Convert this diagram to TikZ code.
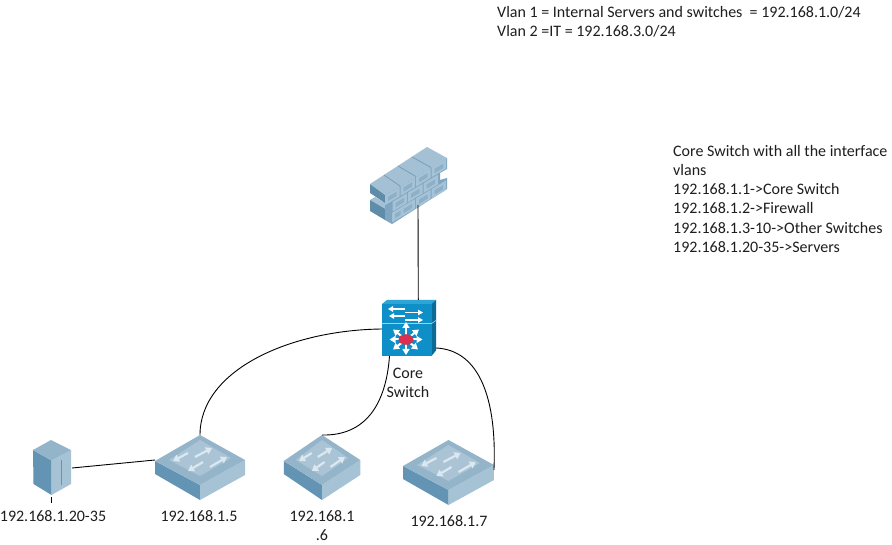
\documentclass[tikz,border=0pt]{standalone}
\usepackage{fontspec}
\setmainfont{Carlito}
\usetikzlibrary{arrows.meta}
\definecolor{swleft}{HTML}{6394B3}
\definecolor{swright}{HTML}{A6C2D5}
\definecolor{swtop}{HTML}{94B4CA}
\definecolor{swpanel}{HTML}{AAC4D6}
\definecolor{swarrow}{HTML}{DCE8F0}
\definecolor{brtop}{HTML}{A3C0D4}
\definecolor{brfront}{HTML}{7FA6C0}
\definecolor{brbrick}{HTML}{A5C2D6}
\definecolor{brwin}{HTML}{8DB0C8}
\definecolor{brdark}{HTML}{5F8DA9}
\definecolor{corefront}{HTML}{0F8FC8}
\definecolor{coretop}{HTML}{2FA5D6}
\definecolor{coreside}{HTML}{0C6A96}
\definecolor{corered}{HTML}{D9304F}
\definecolor{txt}{HTML}{1E1E1E}
\newcommand\fwbrick[2]{%
  \pgfmathsetmacro\fwby{195-0.6*(#1-385)+#2}%
  \fill[brbrick] (#1,\fwby) -- ++(14.6,-8.76) -- ++(0,9.6) -- ++(-14.6,8.76) -- cycle;
  \fill[brwin] ({#1+3},{\fwby+1.2}) -- ++(8.6,-5.16) -- ++(0,4.2) -- ++(-8.6,5.16) -- cycle;
}
\tikzset{
  lbl/.style={font=\fontsize{16}{18}\selectfont,text=txt,inner sep=0pt,anchor=base},
  lblleft/.style={lbl,anchor=base west},
  link/.style={draw=black,line width=0.9pt},
  swar/.style={draw=swarrow,line width=2.2pt,-{Triangle[width=7.5pt,length=6pt]}},
  corear/.style={draw=white,line width=2pt,-{Triangle[width=7pt,length=6pt]}},
  corebar/.style={draw=white,line width=1.3pt,-{Triangle[width=5.5pt,length=5pt]}},
  lanswitch/.pic={
    \fill[swleft] (-45,1) -- (0,25) -- (0,40) -- (-45,14) -- cycle;
    \fill[swright] (45,0) -- (0,25) -- (0,40) -- (45,15) -- cycle;
    \fill[swtop] (0,-25) -- (45,0) -- (0,25) -- (-45,1) -- cycle;
    \fill[swpanel] (0,-20) -- (31,-2) -- (0,16) -- (-31,0) -- cycle;
    \draw[swar] (-12,-7) -- (-27,1);
    \draw[swar] (-5,-3) -- (12,-12);
    \draw[swar] (3,2) -- (-12,11);
    \draw[swar] (10,7) -- (27,-3);
    \coordinate (-top) at (0,-25);
    \coordinate (-left) at (-45,0);
    \coordinate (-right) at (45,5);
  },
  firewallpic/.pic={
    % lower left end block
    \fill[brtop] (370,200) -- (375,197) -- (392,207) -- (385,210) -- cycle;
    \fill[brdark] (370,200) -- (385,209) -- (385,220) -- (370,211) -- cycle;
    % wall front
    \fill[brfront] (385,195) -- (447,158) -- (447,169) -- (440,173) -- (440,180) -- (447,178) -- (447,189) -- (392,224) -- (385,220) -- cycle;
    % upper left end and top face
    \fill[brdark] (370,184) -- (385,194) -- (385,203) -- (370,193) -- cycle;
    \fill[brtop] (370,184) -- (427,147) -- (447,158) -- (385,195) -- cycle;
    \draw[brdark!70!brtop,line width=.7pt] (384,175) -- (400,186) (398,166) -- (416,176.5) (412,157) -- (431,167.5);
    % bricks
    \foreach \x in {385,400.5,416,431.5}{\fwbrick{\x}{0.6}}
    \foreach \x in {392.5,408,423.5}{\fwbrick{\x}{11.4}}
    \foreach \x in {392,400.5,416,431.5}{\fwbrick{\x}{22}}
    \coordinate (-bottom) at (418,205);
  },
  coreswitchpic/.pic={
    \fill[coretop] (382,304) -- (387,300) -- (436,300) -- (431.5,304) -- cycle;
    \fill[coreside] (431.5,304) -- (436,300) -- (436,350.5) -- (431.5,356) -- cycle;
    \fill[corefront] (382,304) rectangle (431.5,356);
    \draw[white!60!corefront,line width=.6pt] (382,323.5) -- (431.5,323.5) -- (436,320.5);
    \draw[corebar] (405,309) -- (388,309);
    \draw[corebar] (405,312.5) -- (423,312.5);
    \draw[corebar] (405,316) -- (389,316);
    \draw[corebar] (405,320) -- (423,320);
    \foreach \dx/\dy in {0/-17.5,0/15.5,-16.5/0,16.5/0,-13/-10,13/-10,-13/10,12/10}{
      \draw[corear] (406,339.5) -- ++(\dx,\dy);
    }
    \fill[corered] (406,339.5) ellipse (7.5pt and 5.3pt);
    \coordinate (-n) at (418.3,300);
    \coordinate (-w) at (382,329);
    \coordinate (-s) at (389.5,356);
    \coordinate (-e) at (436,348);
  },
  serverpic/.pic={
    \fill[swleft] (33,450) -- (51.5,460.5) -- (51.5,495) -- (33.5,484) -- cycle;
    \fill[swright] (71,450) -- (51.5,460.5) -- (51.5,495) -- (71,484) -- cycle;
    \fill[swtop] (51,440) -- (71,450) -- (51.5,460.5) -- (33,450) -- cycle;
    \draw[swleft,line width=.9pt] (61.5,460) -- (61.5,485);
    \coordinate (-e) at (72,468);
    \coordinate (-s) at (51.5,497);
  },
}
\begin{document}
\begin{tikzpicture}[x=1pt,y=-1pt]
\useasboundingbox (0,0) rectangle (892,545);
\fill[white] (0,0) rectangle (892,545);

\pic (fw) at (0,0) {firewallpic};
\pic (core) at (0,0) {coreswitchpic};
\pic (srv) at (0,0) {serverpic};
\pic (sa) at (200,460) {lanswitch};
\pic[xscale=.85] (sb) at (322,460) {lanswitch};
\pic[xscale=1.01] (sc) at (448.5,465) {lanswitch};

\coordinate (srvtick) at (51.5,503);
\draw[link] (fw-bottom) -- (core-n);
\draw[link] (srv-e) -- (sa-left);
\draw[link] (srv-s) -- (srvtick);
\draw[link] (sa-top) .. controls (200,370) and (290,330) .. (core-w);
\draw[link] (core-s) .. controls (386,405) and (365,436) .. (sb-top);
\draw[link] (core-e) .. controls (480,350) and (497,400) .. (sc-right);

\node[lblleft] (t1) at (497,17.5) {Vlan 1 = Internal Servers and switches\ \ = 192.168.1.0/24};
\node[lblleft] (t2) at (497,36.5) {Vlan 2 =IT = 192.168.3.0/24};
\node[lblleft] (r1) at (673,156.5) {Core Switch with all the interface};
\node[lblleft] (r2) at (673,175.5) {vlans};
\node[lblleft] (r3) at (673,194.5) {192.168.1.1->Core Switch};
\node[lblleft] (r4) at (673,213.5) {192.168.1.2->Firewall};
\node[lblleft] (r5) at (673,233.5) {192.168.1.3-10->Other Switches};
\node[lblleft] (r6) at (673,252.5) {192.168.1.20-35->Servers};
\node[lbl] (c1) at (408,378) {Core};
\node[lbl] (c2) at (408,397) {Switch};
\node[lbl] (l1) at (53,521.5) {192.168.1.20-35};
\node[lbl] (l2) at (199,521.5) {192.168.1.5};
\node[lbl] (l3) at (322,521.5) {192.168.1};
\node[lbl] (l3b) at (322,540.5) {.6};
\node[lbl] (l4) at (449,526.5) {192.168.1.7};
\end{tikzpicture}
\end{document}
